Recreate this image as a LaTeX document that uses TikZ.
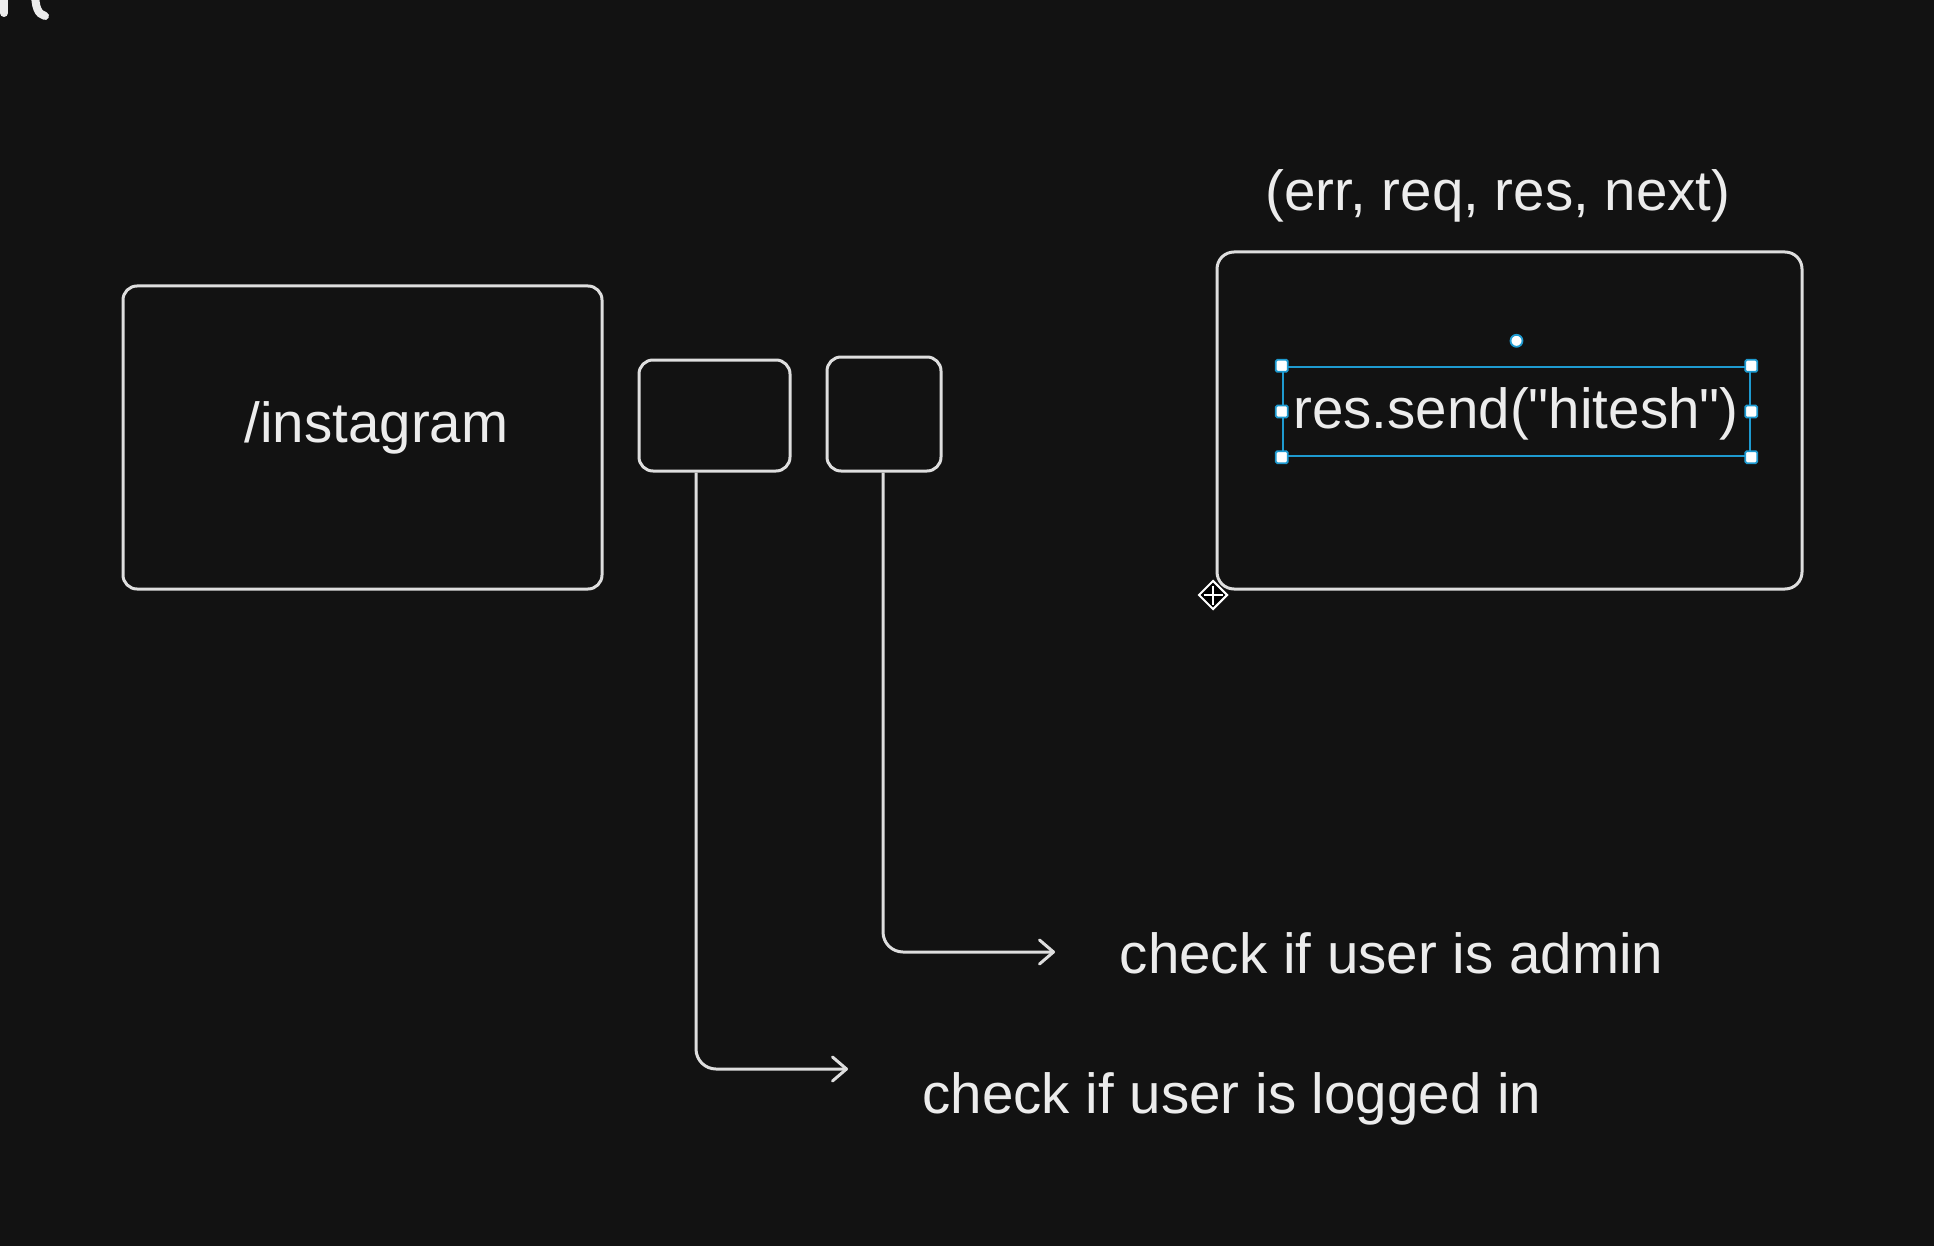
\documentclass[tikz,border=0pt]{standalone}
\usepackage{fontspec}
\setmainfont{Liberation Sans}
\usetikzlibrary{positioning,arrows.meta,shapes.geometric}
\definecolor{palBg}{HTML}{121212}
\definecolor{palInk}{HTML}{DEDEDE}
\definecolor{palText}{HTML}{ECECEC}
\definecolor{palSel}{HTML}{1E9AD0}
\tikzset{
  sketchbox/.style={draw=palInk, line width=3pt, rounded corners=14pt,
                    rectangle, inner sep=0pt},
  biglabel/.style={text=palText, font=\fontsize{56.5}{60}\selectfont,
                   inner sep=0pt, anchor=base},
  flowarrow/.style={draw=palInk, line width=3pt, rounded corners=20pt,
                    -{Straight Barb[length=14pt,width=24pt,round]}},
  selframe/.style={draw=palSel, line width=2.4pt, rectangle, inner sep=0pt},
  selhandle/.style={draw=palSel, fill=white, line width=1.8pt, rectangle,
                    rounded corners=1.5pt, minimum size=12pt, inner sep=0pt},
}

\begin{document}
\begin{tikzpicture}[x=1pt, y=-1pt,
  fragstroke/.style={palText, line width=8pt, line cap=round}
]
%% Canvas
\fill[palBg] (0,0) rectangle (1934,1246);
\useasboundingbox (0,0) rectangle (1934,1246);

%% Cut-off text at the top edge
\draw[fragstroke] (4,-10) -- (4,13);
\draw[fragstroke] (35,-10) .. controls (35,8) and (38,14) .. (45,16);

%% Route box and middleware boxes
\node[sketchbox, minimum width=479pt, minimum height=303pt] (route) at (362.5,437.5) {};
\node[biglabel] (routelbl) at (376.5,442) {/instagram};
\node[sketchbox, minimum width=151pt, minimum height=111pt] (mwA) at (714.5,415.5) {};
\node[sketchbox, minimum width=114pt, minimum height=114pt] (mwB) at (884,414) {};

%% Error handler box
\node[biglabel] (args) at (1498,211) {(err, req, res, next)};
\node[sketchbox, rounded corners=17pt, minimum width=585pt, minimum height=337pt] (errbox) at (1509.5,420.5) {};
\node[selframe, minimum width=467pt, minimum height=89pt] (selbox) at (1516.5,411.5) {};
\node[biglabel] (sendlbl) at (1516,428) {res.send(\textquotedbl hitesh\textquotedbl)};
\foreach \a in {north west, west, south west, north east, east, south east} {
  \node[selhandle] at (selbox.\a) {};
}
\node[circle, draw=palSel, fill=white, line width=1.8pt, minimum size=12pt,
      inner sep=0pt] (rothandle) at ([yshift=25pt]selbox.north) {};

%% Move cursor
\node[diamond, fill=black, draw=white, line width=2pt, minimum size=29pt,
      inner sep=0pt] (movecur) at (1213,595) {};
\draw[white, line width=2.4pt] ([yshift=-6pt]movecur.north) -- ([yshift=6pt]movecur.south);
\draw[white, line width=2.4pt] ([xshift=6pt]movecur.west) -- ([xshift=-6pt]movecur.east);

%% Notes with connectors
\coordinate (tipA) at (848,1069);
\coordinate (tipB) at (1055,952);
\draw[flowarrow] ([xshift=-18.5pt]mwA.south) |- (tipA);
\draw[flowarrow] ([xshift=-1pt]mwB.south) |- (tipB);
\node[biglabel] (adminlbl) at (1391.5,973) {check if user is admin};
\node[biglabel] (loginlbl) at (1232,1113) {check if user is logged in};
\end{tikzpicture}
\end{document}
